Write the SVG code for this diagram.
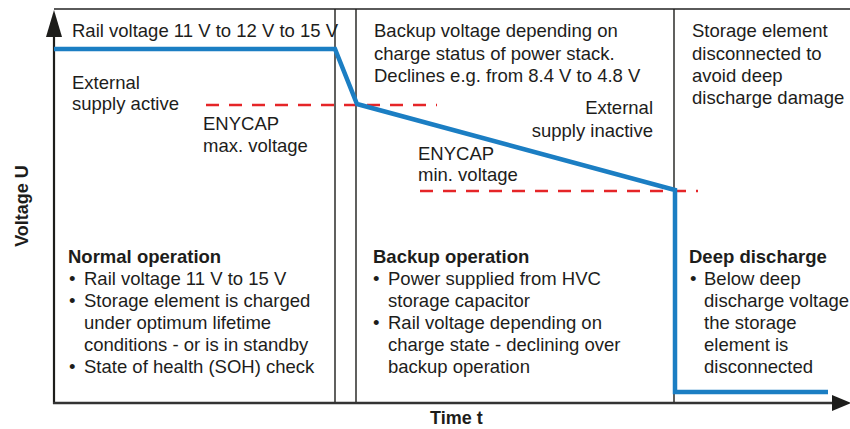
<svg xmlns="http://www.w3.org/2000/svg" width="850" height="429" viewBox="0 0 850 429">
<style>
text{font-family:"Liberation Sans",Arial,Helvetica,sans-serif;font-size:18.5px;fill:#1d1d1b}
.b{font-weight:bold}
.ax{font-weight:bold;font-size:18px}
.div{stroke:#1d1d1b;stroke-width:1.4;fill:none}
.dash{stroke:#e52528;stroke-width:2.5;stroke-dasharray:13 10;fill:none}
.blue{stroke:#1b7ec3;stroke-width:4.5;fill:none;stroke-linejoin:miter}
</style>
<rect width="850" height="429" fill="#fff"/>
<g id="frame">
<line x1="54" y1="9" x2="850" y2="9" stroke="#5a5a5a" stroke-width="2"/>
<line class="div" x1="335" y1="9" x2="335" y2="403"/>
<line class="div" x1="356" y1="9" x2="356" y2="403" stroke="#555"/>
<line class="div" x1="674" y1="9" x2="674" y2="403"/>
</g>
<g id="axes">
<line x1="54" y1="30" x2="54" y2="404" stroke="#1d1d1b" stroke-width="2.2"/>
<polygon points="54,10 46,37 62,37" fill="#1d1d1b"/>
<line x1="53" y1="403" x2="835" y2="403" stroke="#333" stroke-width="2.6"/>
<polygon points="851,403 832,395 832,411" fill="#1d1d1b"/>
<text class="ax" transform="translate(28,206) rotate(-90)" text-anchor="middle">Voltage U</text>
<text class="ax" x="430" y="424">Time t</text>
</g>
<g id="thresholds">
<line class="dash" x1="206" y1="105" x2="437" y2="105"/>
<line class="dash" x1="420" y1="191" x2="698" y2="191"/>
</g>
<g id="voltage-curve">
<polyline class="blue" points="54,49 335,49 357,104 675,190 675,392 828,392"/>
</g>
<g id="labels">
<text x="72" y="37">Rail voltage 11 V to 12 V to 15 V</text>
<text x="72" y="89">External</text>
<text x="72" y="110">supply active</text>
<text x="203" y="130">ENYCAP</text>
<text x="203" y="152">max. voltage</text>
<text x="374" y="37">Backup voltage depending on</text>
<text x="374" y="59.5">charge status of power stack.</text>
<text x="374" y="82">Declines e.g. from 8.4 V to 4.8 V</text>
<text x="653" y="114" text-anchor="end">External</text>
<text x="653" y="137" text-anchor="end">supply inactive</text>
<text x="418" y="160">ENYCAP</text>
<text x="418" y="181">min. voltage</text>
<text x="692" y="37">Storage element</text>
<text x="692" y="59.5">disconnected to</text>
<text x="692" y="82">avoid deep</text>
<text x="692" y="104">discharge damage</text>
</g>
<g id="normal-operation">
<text class="b" x="68" y="263">Normal operation</text>
<text x="69" y="285">•</text><text x="84" y="285">Rail voltage 11 V to 15 V</text>
<text x="69" y="307">•</text><text x="84" y="307">Storage element is charged</text>
<text x="84" y="329">under optimum lifetime</text>
<text x="84" y="351">conditions - or is in standby</text>
<text x="69" y="373">•</text><text x="84" y="373">State of health (SOH) check</text>
</g>
<g id="backup-operation">
<text class="b" x="373" y="263">Backup operation</text>
<text x="373" y="285">•</text><text x="388" y="285">Power supplied from HVC</text>
<text x="388" y="307">storage capacitor</text>
<text x="373" y="329">•</text><text x="388" y="329">Rail voltage depending on</text>
<text x="388" y="351">charge state - declining over</text>
<text x="388" y="373">backup operation</text>
</g>
<g id="deep-discharge">
<text class="b" x="689" y="263">Deep discharge</text>
<text x="690" y="285">•</text><text x="704" y="285">Below deep</text>
<text x="704" y="307">discharge voltage</text>
<text x="704" y="329">the storage</text>
<text x="704" y="351">element is</text>
<text x="704" y="373">disconnected</text>
</g>
</svg>
